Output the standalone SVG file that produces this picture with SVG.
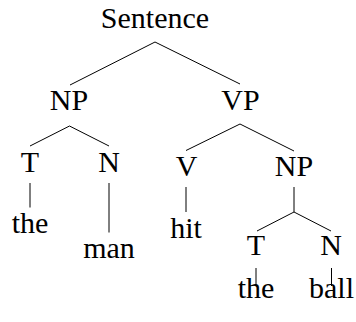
<svg xmlns="http://www.w3.org/2000/svg" width="356" height="322" viewBox="0 0 356 322">
<style>
text{font-size:30px;fill:#000;text-anchor:middle}
.c line{stroke:#000;stroke-width:1;stroke-linecap:butt}
</style>
<rect width="356" height="322" fill="#fff"/>
<g class="c" id="connectors">
<line x1="155" y1="42" x2="70" y2="85"/>
<line x1="155" y1="42" x2="240" y2="84"/>
<line x1="69.5" y1="126" x2="30" y2="146"/>
<line x1="69.5" y1="126" x2="109" y2="146"/>
<line x1="240" y1="124" x2="186" y2="150.5"/>
<line x1="240" y1="124" x2="294" y2="151"/>
<line x1="30" y1="183" x2="30" y2="207.5"/>
<line x1="109" y1="183" x2="109" y2="232.5"/>
<line x1="186" y1="187" x2="186" y2="212"/>
<line x1="294" y1="187" x2="294" y2="212"/>
<line x1="294" y1="212" x2="257" y2="231"/>
<line x1="294" y1="212" x2="331" y2="231"/>
<line x1="256" y1="268" x2="256" y2="286"/>
<line x1="331.5" y1="268" x2="331.5" y2="286"/>
</g>
<g id="sentence"><text x="155" y="28.3" style="font-family:'Liberation Serif'">Sentence</text></g>
<g id="np1"><text x="69" y="110" style="font-family:'Liberation Serif'">NP</text></g>
<g id="vp"><text x="240.5" y="110" style="font-family:'Liberation Serif'">VP</text></g>
<g id="t1"><text x="30" y="172.3" style="font-family:'Liberation Serif'">T</text></g>
<g id="n1"><text x="109" y="172.3" style="font-family:'Liberation Serif'">N</text></g>
<g id="v"><text x="186.5" y="176" style="font-family:'Liberation Serif'">V</text></g>
<g id="np2"><text x="294" y="176" style="font-family:'Liberation Serif'">NP</text></g>
<g id="the1"><text x="30" y="232.7" style="font-family:'Liberation Serif'">the</text></g>
<g id="man"><text x="109" y="258.3" style="font-family:'Liberation Serif'">man</text></g>
<g id="hit"><text x="186" y="238.3" style="font-family:'Liberation Serif'">hit</text></g>
<g id="t2"><text x="256" y="255" style="font-family:'Liberation Serif'">T</text></g>
<g id="n2"><text x="331" y="255" style="font-family:'Liberation Serif'">N</text></g>
<g id="the2"><text x="256" y="298.3" style="font-family:'Liberation Serif'">the</text></g>
<g id="ball"><text x="331.5" y="298.3" style="font-family:'Liberation Serif'">ball</text></g>
</svg>
